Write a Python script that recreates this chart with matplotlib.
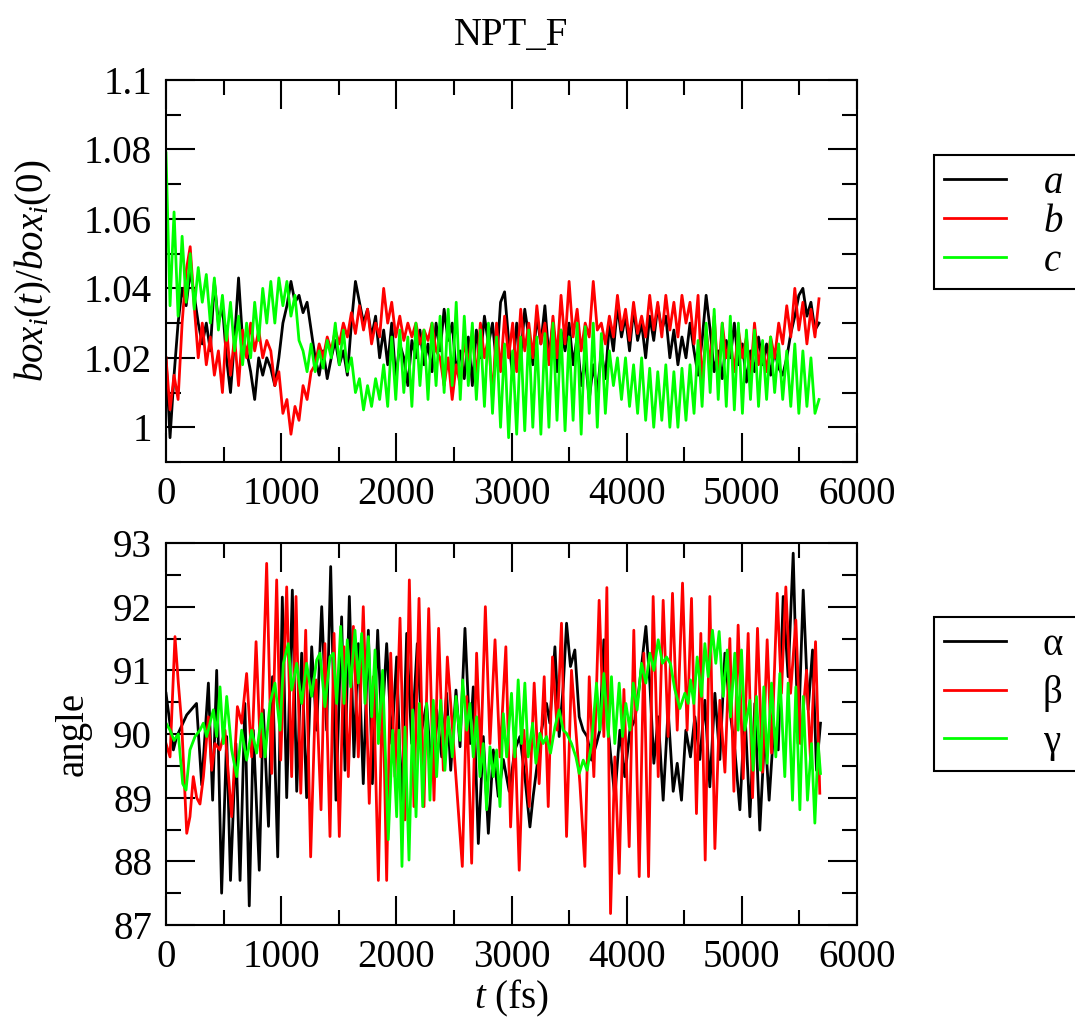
"""Box-length ratios and cell angles for the NPT_F run, two stacked panels."""

import numpy as np
import matplotlib

matplotlib.use("Agg")
import matplotlib.pyplot as plt
from matplotlib.ticker import FuncFormatter, MultipleLocator

plt.rcParams["font.family"] = "Liberation Serif"
plt.rcParams["mathtext.fontset"] = "custom"
plt.rcParams["mathtext.rm"] = "Liberation Serif"
plt.rcParams["mathtext.it"] = "Liberation Serif:italic"

# top panel: box_i(t)/box_i(0), sampled every STEP_FS femtoseconds
STEP_FS = 35
box_a = [
    1.020, 0.997, 1.015, 1.030, 1.040, 1.035, 1.045, 1.038, 1.030, 1.024,
    1.030, 1.022, 1.042, 1.030, 1.035, 1.020, 1.010, 1.025, 1.043, 1.025,
    1.022, 1.016, 1.008, 1.020, 1.015, 1.020, 1.017, 1.012, 1.020, 1.030,
    1.035, 1.042, 1.036, 1.038, 1.033, 1.036, 1.028, 1.020, 1.015, 1.022,
    1.014, 1.020, 1.025, 1.018, 1.022, 1.015, 1.030, 1.042, 1.036, 1.030,
    1.034, 1.026, 1.032, 1.020, 1.028, 1.018, 1.030, 1.014, 1.024, 1.020,
    1.012, 1.025, 1.020, 1.028, 1.018, 1.024, 1.016, 1.030, 1.022, 1.034,
    1.025, 1.030, 1.016, 1.022, 1.014, 1.026, 1.012, 1.028, 1.020, 1.032,
    1.024, 1.030, 1.018, 1.036, 1.039, 1.025, 1.015, 1.030, 1.020, 1.034,
    1.026, 1.018, 1.032, 1.024, 1.035, 1.020, 1.030, 1.016, 1.028, 1.022,
    1.030, 1.018, 1.026, 1.012, 1.020, 1.008, 1.018, 1.010, 1.022, 1.014,
    1.030, 1.022, 1.035, 1.026, 1.032, 1.022, 1.034, 1.025, 1.030, 1.020,
    1.032, 1.025, 1.035, 1.028, 1.032, 1.020, 1.028, 1.018, 1.026, 1.020,
    1.030, 1.022, 1.015, 1.025, 1.038, 1.028, 1.016, 1.022, 1.014, 1.025,
    1.020, 1.030, 1.018, 1.024, 1.013, 1.022, 1.016, 1.026, 1.018, 1.024,
    1.015, 1.022, 1.017, 1.015, 1.020, 1.027, 1.032, 1.038, 1.040, 1.032,
    1.036, 1.028, 1.030,
]
box_b = [
    1.020, 1.005, 1.015, 1.008, 1.030, 1.045, 1.052, 1.035, 1.020, 1.030,
    1.018, 1.026, 1.015, 1.022, 1.010, 1.029, 1.015, 1.026, 1.012, 1.028,
    1.020, 1.030, 1.022, 1.028, 1.020, 1.025, 1.022, 1.012, 1.016, 1.004,
    1.008, 0.998, 1.006, 1.002, 1.012, 1.008, 1.016, 1.018, 1.024, 1.020,
    1.026, 1.022, 1.028, 1.024, 1.030, 1.026, 1.033, 1.027, 1.035, 1.028,
    1.034, 1.024, 1.030, 1.026, 1.040, 1.030, 1.036, 1.026, 1.032, 1.025,
    1.030, 1.026, 1.030, 1.024, 1.028, 1.025, 1.030, 1.022, 1.020, 1.012,
    1.020, 1.008, 1.018, 1.012, 1.025, 1.018, 1.028, 1.014, 1.030, 1.020,
    1.026, 1.008, 1.030, 1.016, 1.032, 1.020, 1.030, 1.016, 1.034, 1.022,
    1.030, 1.020, 1.035, 1.024, 1.030, 1.018, 1.032, 1.020, 1.038, 1.024,
    1.042, 1.026, 1.034, 1.022, 1.030, 1.026, 1.042, 1.028, 1.030, 1.024,
    1.032, 1.026, 1.038, 1.028, 1.034, 1.025, 1.036, 1.027, 1.032, 1.026,
    1.038, 1.028, 1.036, 1.026, 1.038, 1.028, 1.036, 1.026, 1.038, 1.030,
    1.036, 1.024, 1.038, 1.012, 1.028, 1.018, 1.032, 1.014, 1.030, 1.020,
    1.025, 1.016, 1.028, 1.020, 1.026, 1.014, 1.030, 1.018, 1.024, 1.016,
    1.026, 1.020, 1.030, 1.024, 1.035, 1.026, 1.040, 1.028, 1.036, 1.024,
    1.034, 1.026, 1.037,
]
box_c = [
    1.079, 1.035, 1.062, 1.032, 1.055, 1.036, 1.050, 1.034, 1.046, 1.036,
    1.044, 1.030, 1.043, 1.028, 1.038, 1.025, 1.036, 1.022, 1.032, 1.018,
    1.030, 1.020, 1.036, 1.025, 1.040, 1.030, 1.042, 1.030, 1.043, 1.035,
    1.042, 1.032, 1.038, 1.025, 1.022, 1.016, 1.024, 1.016, 1.022, 1.017,
    1.025, 1.020, 1.030, 1.018, 1.028, 1.016, 1.020, 1.010, 1.014, 1.005,
    1.012, 1.006, 1.014, 1.008, 1.018, 1.006, 1.026, 1.008, 1.028, 1.010,
    1.026, 1.006, 1.030, 1.012, 1.028, 1.008, 1.030, 1.012, 1.032, 1.010,
    1.034, 1.012, 1.036, 1.008, 1.032, 1.012, 1.030, 1.008, 1.028, 1.006,
    1.030, 1.004, 1.026, 1.000, 1.024, 0.997, 1.022, 0.998, 1.026, 0.999,
    1.028, 1.000, 1.026, 0.998, 1.027, 1.000, 1.030, 1.002, 1.028, 0.999,
    1.026, 1.002, 1.030, 0.998, 1.029, 1.004, 1.030, 1.000, 1.027, 1.004,
    1.022, 1.012, 1.020, 1.008, 1.020, 1.006, 1.018, 1.004, 1.020, 1.002,
    1.017, 1.000, 1.016, 1.002, 1.018, 1.000, 1.016, 1.000, 1.017, 1.002,
    1.018, 1.004, 1.025, 1.006, 1.030, 1.010, 1.034, 1.008, 1.030, 1.006,
    1.032, 1.005, 1.030, 1.004, 1.028, 1.008, 1.028, 1.006, 1.025, 1.008,
    1.026, 1.010, 1.024, 1.008, 1.022, 1.006, 1.024, 1.004, 1.022, 1.006,
    1.020, 1.004, 1.008,
]

# bottom panel: cell angles (deg), (time in fs, angle) at the turning points
alpha_pts = [
    (0, 90.64), (64, 89.75), (93, 89.96), (180, 90.30), (265, 90.48), (310, 89.20),
    (368, 90.80), (405, 88.96), (440, 91.00), (483, 87.50), (527, 89.96), (560, 87.70),
    (607, 89.85), (643, 87.70), (685, 90.48), (723, 87.30), (758, 90.06), (810, 87.86),
    (845, 90.38), (890, 88.55), (925, 90.90), (970, 88.07), (1010, 92.15), (1048, 89.00),
    (1097, 92.26), (1135, 89.10), (1178, 91.27), (1221, 89.00), (1265, 91.37), (1308, 90.06),
    (1352, 92.00), (1395, 90.06), (1430, 92.63), (1476, 88.96), (1525, 91.84), (1554, 89.43),
    (1592, 92.16), (1632, 89.64), (1670, 91.42), (1713, 89.22), (1757, 91.63), (1792, 89.22),
    (1838, 91.63), (1873, 90.06), (1916, 91.42), (1960, 89.85), (2003, 91.21), (2046, 88.81),
    (2090, 91.58), (2133, 89.85), (2182, 91.42), (2220, 90.06), (2263, 90.48), (2307, 89.33),
    (2350, 90.38), (2394, 89.64), (2437, 90.64), (2472, 89.43), (2518, 90.69), (2553, 89.80),
    (2596, 91.66), (2640, 89.85), (2668, 90.74), (2712, 88.28), (2755, 89.96), (2799, 88.44),
    (2842, 89.75), (2885, 89.02), (2929, 89.60), (2980, 89.10), (3029, 89.75), (3073, 89.96),
    (3116, 89.33), (3160, 88.54), (3188, 89.02), (3217, 89.43), (3261, 90.06), (3304, 90.48),
    (3333, 90.17), (3377, 91.37), (3414, 89.96), (3449, 90.74), (3478, 91.74), (3512, 91.06),
    (3550, 91.32), (3588, 90.27), (3622, 90.06), (3657, 89.96), (3695, 89.59), (3738, 89.85),
    (3767, 90.06), (3802, 91.48), (3840, 90.06), (3897, 89.00), (3941, 90.06), (3984, 89.33),
    (4028, 90.06), (4071, 90.22), (4109, 90.74), (4167, 91.69), (4201, 90.80), (4236, 89.54),
    (4274, 90.27), (4317, 88.96), (4360, 90.38), (4404, 89.10), (4439, 89.54), (4476, 88.96),
    (4514, 90.06), (4554, 89.64), (4592, 90.27), (4635, 89.60), (4679, 90.53), (4722, 89.17),
    (4766, 90.64), (4809, 89.60), (4853, 91.27), (4896, 90.38), (4939, 89.75), (4983, 88.81),
    (5026, 90.38), (5070, 88.70), (5113, 90.48), (5156, 88.49), (5200, 90.06), (5237, 88.96),
    (5278, 90.11), (5316, 89.75), (5359, 92.16), (5402, 90.90), (5446, 92.84), (5489, 89.85),
    (5533, 92.26), (5576, 90.38), (5614, 91.32), (5648, 89.43), (5683, 90.17),
]
beta_pts = [
    (0, 89.85), (35, 89.64), (78, 91.53), (107, 90.80), (136, 90.17), (180, 88.44),
    (208, 88.70), (237, 89.33), (266, 89.00), (295, 88.90), (325, 89.33), (368, 90.27),
    (397, 89.43), (425, 89.85), (468, 89.75), (512, 90.06), (570, 88.70), (620, 90.43),
    (657, 90.17), (700, 90.95), (744, 89.64), (782, 91.45), (822, 89.64), (874, 92.68),
    (918, 89.38), (961, 92.42), (996, 89.59), (1048, 92.31), (1091, 89.33), (1129, 92.16),
    (1170, 89.07), (1213, 91.63), (1256, 88.07), (1302, 90.85), (1346, 88.81), (1380, 91.42),
    (1424, 88.39), (1459, 91.58), (1505, 88.39), (1546, 91.37), (1583, 89.33), (1627, 91.69),
    (1670, 89.64), (1713, 92.00), (1765, 88.91), (1800, 90.90), (1844, 87.70), (1881, 90.90),
    (1916, 87.70), (1951, 91.27), (1988, 89.33), (2032, 91.82), (2075, 88.65), (2113, 92.42),
    (2153, 88.86), (2197, 92.13), (2240, 88.86), (2281, 91.97), (2327, 88.96), (2367, 91.66),
    (2408, 89.43), (2443, 91.21), (2495, 89.90), (2538, 88.81), (2573, 87.92), (2611, 90.59),
    (2654, 87.97), (2697, 91.27), (2732, 89.60), (2773, 92.00), (2813, 89.85), (2857, 91.48),
    (2900, 89.64), (2951, 91.37), (2992, 88.54), (3029, 90.06), (3067, 87.86), (3107, 90.06),
    (3154, 88.86), (3197, 90.80), (3240, 89.22), (3284, 90.90), (3319, 88.86), (3356, 91.21),
    (3397, 90.06), (3434, 91.74), (3478, 88.39), (3521, 91.00), (3559, 90.06), (3594, 89.22),
    (3637, 87.92), (3675, 90.90), (3715, 89.33), (3761, 92.10), (3802, 89.96), (3828, 92.30),
    (3860, 87.18), (3897, 89.64), (3935, 87.81), (3976, 90.70), (4022, 88.23), (4062, 91.63),
    (4109, 87.76), (4149, 91.27), (4190, 87.76), (4230, 92.16), (4274, 89.33), (4317, 92.10),
    (4360, 89.96), (4398, 92.21), (4439, 90.06), (4485, 92.37), (4525, 90.06), (4563, 92.13),
    (4606, 88.75), (4644, 91.58), (4682, 88.02), (4722, 92.16), (4766, 88.20), (4809, 90.53),
    (4853, 89.40), (4896, 91.50), (4931, 89.10), (4968, 91.71), (5012, 89.30), (5055, 91.58),
    (5093, 89.00), (5136, 91.66), (5180, 89.40), (5220, 91.48), (5258, 89.70), (5307, 92.21),
    (5344, 90.64), (5382, 92.31), (5423, 90.64), (5469, 91.79), (5509, 89.85), (5562, 91.00),
    (5596, 89.60), (5640, 91.45), (5677, 89.07),
]
gamma_pts = [
    (0, 90.17), (35, 90.06), (70, 89.90), (107, 90.00), (145, 89.22), (174, 89.12),
    (208, 89.75), (252, 89.96), (295, 90.06), (324, 90.17), (353, 89.96), (411, 90.38),
    (440, 89.96), (469, 90.74), (498, 89.85), (527, 90.59), (570, 89.75), (614, 89.33),
    (657, 90.06), (700, 89.59), (744, 90.06), (787, 89.70), (831, 90.32), (860, 89.64),
    (903, 90.48), (946, 90.80), (990, 90.06), (1019, 91.11), (1062, 91.42), (1091, 90.69),
    (1135, 91.11), (1178, 90.48), (1221, 91.11), (1265, 90.59), (1308, 91.16), (1337, 91.27),
    (1380, 90.43), (1424, 91.21), (1453, 91.27), (1482, 90.48), (1517, 91.69), (1546, 90.48),
    (1574, 91.48), (1603, 90.74), (1641, 91.63), (1670, 90.80), (1699, 91.58), (1728, 90.48),
    (1757, 91.53), (1786, 90.27), (1815, 91.32), (1844, 89.85), (1881, 91.00), (1930, 88.34),
    (1968, 90.06), (2003, 88.70), (2023, 90.06), (2049, 87.92), (2075, 90.11), (2110, 88.02),
    (2142, 90.38), (2171, 88.70), (2200, 90.48), (2229, 88.86), (2263, 90.48), (2292, 88.96),
    (2321, 90.53), (2350, 89.33), (2385, 90.53), (2422, 89.43), (2451, 90.27), (2486, 89.64),
    (2518, 90.59), (2553, 89.90), (2576, 90.85), (2611, 90.06), (2639, 90.48), (2668, 89.64),
    (2697, 90.27), (2726, 89.33), (2755, 89.85), (2784, 88.81), (2813, 89.80), (2842, 89.33),
    (2871, 89.75), (2900, 88.86), (2929, 90.32), (2958, 89.64), (3000, 90.64), (3029, 89.64),
    (3058, 90.85), (3087, 89.85), (3116, 90.80), (3145, 89.64), (3183, 90.17), (3212, 89.54),
    (3246, 90.01), (3275, 89.85), (3304, 89.96), (3339, 89.70), (3377, 90.11), (3414, 90.38),
    (3449, 90.06), (3478, 90.01), (3521, 89.85), (3559, 89.64), (3588, 89.38), (3623, 89.59),
    (3657, 89.43), (3695, 89.85), (3738, 90.80), (3767, 90.06), (3802, 90.95), (3840, 89.96),
    (3868, 90.90), (3897, 89.85), (3935, 90.80), (3964, 89.96), (3993, 90.48), (4028, 90.06),
    (4057, 90.80), (4091, 90.38), (4129, 91.11), (4167, 90.80), (4201, 91.27), (4236, 91.00),
    (4274, 91.48), (4311, 91.11), (4346, 91.21), (4381, 91.10), (4418, 90.70), (4462, 90.40),
    (4505, 90.64), (4534, 90.48), (4554, 90.85), (4583, 90.48), (4612, 91.21), (4650, 90.59),
    (4679, 91.42), (4708, 90.90), (4745, 91.63), (4774, 91.11), (4803, 91.61), (4838, 90.59),
    (4873, 91.32), (4902, 90.27), (4939, 91.27), (4968, 90.06), (4997, 91.32), (5026, 90.06),
    (5070, 90.53), (5098, 89.43), (5127, 90.59), (5162, 89.43), (5191, 90.74), (5220, 89.54),
    (5258, 90.80), (5295, 89.64), (5330, 90.95), (5373, 89.33), (5402, 90.80), (5440, 88.96),
    (5469, 90.74), (5504, 88.81), (5533, 90.59), (5570, 88.96), (5605, 89.85), (5634, 88.60),
    (5663, 89.85), (5683, 89.38),
]

box_labels = ["$a$", "$b$", "$c$"]
angle_labels = ["α", "β", "γ"]
colors = ["black", "#ff0000", "#00ff00"]

FONT = 28
W, H = 1075, 1019


def style_axis(ax):
    ax.set_xlim(0, 6000)
    ax.xaxis.set_major_locator(MultipleLocator(1000))
    ax.xaxis.set_minor_locator(MultipleLocator(500))
    ax.tick_params(which="both", direction="in", top=True, right=True,
                   width=1.5, labelsize=FONT)
    ax.tick_params(which="major", length=21)
    ax.tick_params(which="minor", length=11)
    ax.tick_params(axis="x", pad=10)
    ax.tick_params(axis="y", pad=10)
    for spine in ax.spines.values():
        spine.set_linewidth(1.5)


def add_legend(ax, top_px, spacing):
    leg = ax.legend(loc="upper left",
                    bbox_to_anchor=(934 / W, 1 - top_px / H, 0.2, 0),
                    bbox_transform=fig.transFigure, mode="expand",
                    fontsize=FONT, frameon=True, fancybox=False,
                    edgecolor="black", framealpha=1, borderaxespad=0,
                    borderpad=0.25, handlelength=1.6, handletextpad=0.95,
                    labelspacing=spacing)
    leg.get_frame().set_linewidth(1.5)
    for line in leg.get_lines():
        line.set_linewidth(2.0)
    return leg


fig = plt.figure(figsize=(W / 100, H / 100), dpi=100)
ax_box = fig.add_axes([166 / W, 1 - 462 / H, 691 / W, 382 / H])
ax_ang = fig.add_axes([166 / W, 1 - 925 / H, 691 / W, 382 / H])

t_box = STEP_FS * np.arange(len(box_a))
for series, label, color in zip([box_a, box_b, box_c], box_labels, colors):
    ax_box.plot(t_box, series, color=color, lw=2.0, label=label,
                solid_joinstyle="round")

for pts, label, color in zip([alpha_pts, beta_pts, gamma_pts], angle_labels, colors):
    arr = np.array(pts)
    ax_ang.plot(arr[:, 0], arr[:, 1], color=color, lw=2.0, label=label,
                solid_joinstyle="round")

style_axis(ax_box)
ax_box.set_ylim(0.99, 1.1)
ax_box.yaxis.set_major_locator(MultipleLocator(0.02))
ax_box.yaxis.set_minor_locator(MultipleLocator(0.01))
ax_box.yaxis.set_major_formatter(FuncFormatter(lambda v, _: f"{v:g}"))
ax_box.set_ylabel("$box_i(t)/box_i(0)$", fontsize=FONT)
ax_box.yaxis.set_label_coords((54 - 166) / 691, 0.5)

style_axis(ax_ang)
ax_ang.set_ylim(87, 93)
ax_ang.yaxis.set_major_locator(MultipleLocator(1))
ax_ang.yaxis.set_minor_locator(MultipleLocator(0.5))
ax_ang.set_ylabel("angle", fontsize=FONT)
ax_ang.yaxis.set_label_coords((92 - 166) / 691, 0.5)
ax_ang.set_xlabel("$t$ (fs)", fontsize=FONT)
ax_ang.xaxis.set_label_coords(0.5, -(978 - 925) / 382)

add_legend(ax_box, 155, 0.05)
add_legend(ax_ang, 617, 0.3)

fig.text(511 / W, 1 - 35 / H, "NPT_F", ha="center", va="center", fontsize=FONT)

fig.savefig("out.png", dpi=100)
